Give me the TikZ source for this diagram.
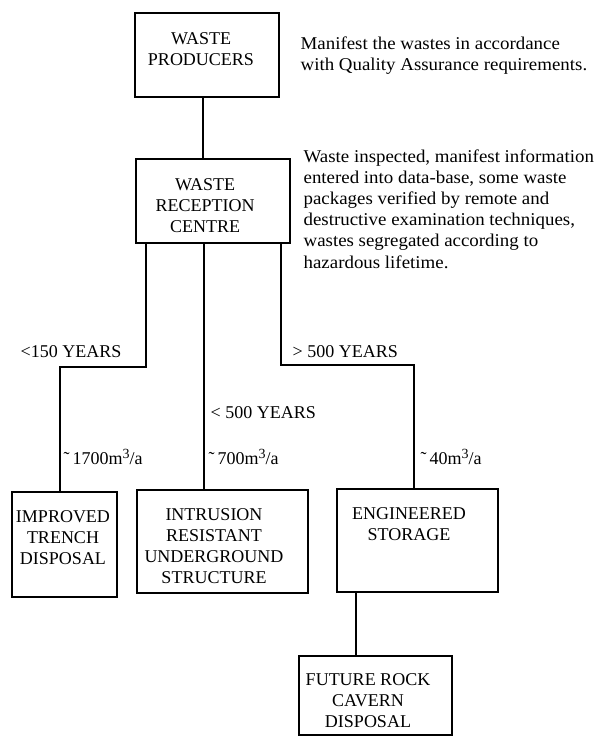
\documentclass[tikz,border=0pt]{standalone}
\usepackage{fontspec}
\setmainfont{Liberation Serif}
\newfontfamily\notefont[FakeStretch=1.05]{Liberation Serif}
\newcommand{\cubsup}{\raisebox{6pt}{\fontsize{14}{14}\selectfont 3}}
\begin{document}
\begin{tikzpicture}[x=1pt,y=-1pt,line width=1.3pt,
  box/.style={draw,rectangle,inner sep=0pt,outer sep=0pt},
  txt/.style={font=\fontsize{18}{21}\selectfont,inner sep=0pt,align=center},
  note/.style={font=\notefont\fontsize{18}{21.2}\selectfont,inner sep=0pt,align=left,anchor=north west},
  lbl/.style={font=\fontsize{18}{21}\selectfont,inner sep=0pt,anchor=west}]
\useasboundingbox (0,0) rectangle (595,736);
% boxes
\node[box,minimum width=144pt,minimum height=84pt] (pbox) at (207,55) {};
\node[box,minimum width=154pt,minimum height=84pt] (rbox) at (213,201) {};
\node[box,minimum width=105pt,minimum height=105pt] (ibox) at (64.5,544.5) {};
\node[box,minimum width=171pt,minimum height=103pt] (ubox) at (222.5,541.5) {};
\node[box,minimum width=161pt,minimum height=103pt] (ebox) at (417.5,540.5) {};
\node[box,minimum width=153pt,minimum height=79pt] (fbox) at (375.5,695.5) {};
% box texts
\node[txt] (ptext) at (201,49) {WASTE\\PRODUCERS};
\node[txt] (rtext) at (205,205.5) {WASTE\\RECEPTION\\CENTRE};
\node[txt] (itext) at (63,538) {IMPROVED\\TRENCH\\DISPOSAL};
\node[txt] (utext) at (214,546.5) {INTRUSION\\RESISTANT\\UNDERGROUND\\STRUCTURE};
\node[txt] (etext) at (409,524.5) {ENGINEERED\\STORAGE};
\node[txt] (ftext) at (368,701) {FUTURE ROCK\\CAVERN\\DISPOSAL};
% notes
\node[note] (n1) at (300,35.7) {Manifest the wastes in accordance\\with Quality Assurance requirements.};
\node[note] (n2) at (303,148.7) {Waste inspected, manifest information\\entered into data-base, some waste\\packages verified by remote and\\destructive examination techniques,\\wastes segregated according to\\hazardous lifetime.};
% connector coordinates
\coordinate (cA) at (203,0);
\coordinate (kL) at (146,367);
\coordinate (kL2) at (60,367);
\coordinate (kM) at (204,0);
\coordinate (kR) at (281,365);
\coordinate (kR2) at (414,365);
\coordinate (kB) at (356,0);
% connectors
\draw (pbox.south -| cA) -- (rbox.north -| cA);
\draw (rbox.south -| kL) -- (kL) -- (kL2) -- (kL2 |- ibox.north);
\draw (rbox.south -| kM) -- (ubox.north -| kM);
\draw (rbox.south -| kR) -- (kR) -- (kR2) -- (kR2 |- ebox.north);
\draw (ebox.south -| kB) -- (fbox.north -| kB);
% labels
\node[lbl] (l1) at (20,352) {<150 YEARS};
\node[lbl] (l2) at (292,352) {> 500 YEARS};
\node[lbl] (l3) at (210,413) {< 500 YEARS};
\node[lbl] (v1) at (63,457) {˜\,1700m\cubsup/a};
\node[lbl] (v2) at (208,457) {˜\,700m\cubsup/a};
\node[lbl] (v3) at (420,457) {˜\,40m\cubsup/a};
\end{tikzpicture}
\end{document}
